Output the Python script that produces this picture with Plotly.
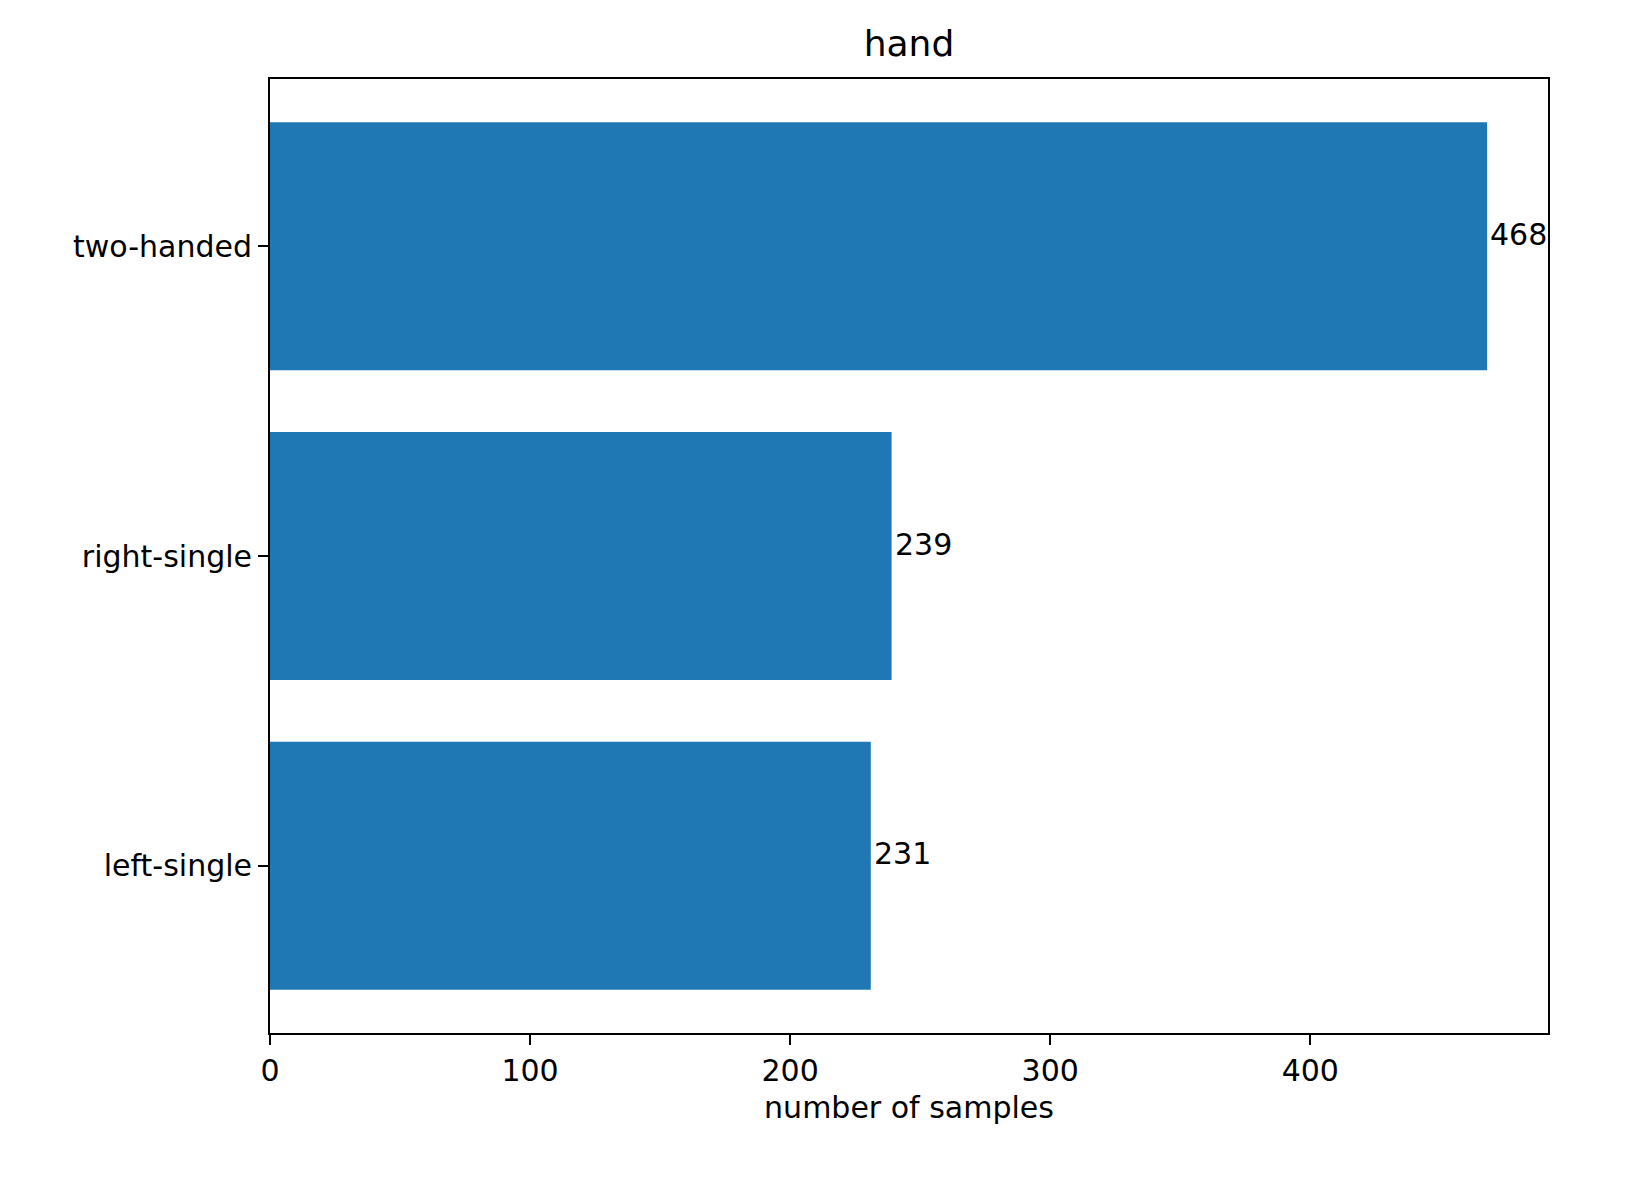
import plotly.graph_objects as go

categories = ["left-single", "right-single", "two-handed"]
values = [231, 239, 468]

fig = go.Figure(go.Bar(
    x=values, y=categories, orientation="h", width=0.8,
    marker=dict(color="#1f77b4", line=dict(width=0)),
))
for c, v in zip(categories, values):
    fig.add_annotation(x=v, y=c, text=str(v), showarrow=False, xanchor="left",
                       yanchor="middle", yshift=12, xshift=1,
                       font=dict(size=30, color="black"))

axis_common = dict(showline=True, linecolor="black", linewidth=2, mirror=True,
                   ticks="outside", ticklen=10, tickwidth=2, tickcolor="black",
                   showgrid=False, zeroline=False,
                   tickfont=dict(size=30, color="black"))
fig.update_xaxes(range=[0, 491.4], dtick=100, title=dict(text="number of samples",
                 font=dict(size=30, color="black"), standoff=10), **axis_common)
fig.update_yaxes(range=[-0.54, 2.54], **axis_common)
fig.update_layout(
    width=1631, height=1195,
    margin=dict(l=262, r=91, t=71, b=170),
    plot_bgcolor="white", paper_bgcolor="white",
    font=dict(family="DejaVu Sans", color="black"),
    title=dict(text="hand", x=(262 + 1540) / 2 / 1631, xanchor="center",
               y=1 - 35 / 1195, yanchor="middle", font=dict(size=36, color="black")),
    showlegend=False,
)
fig.write_html("out.html")
